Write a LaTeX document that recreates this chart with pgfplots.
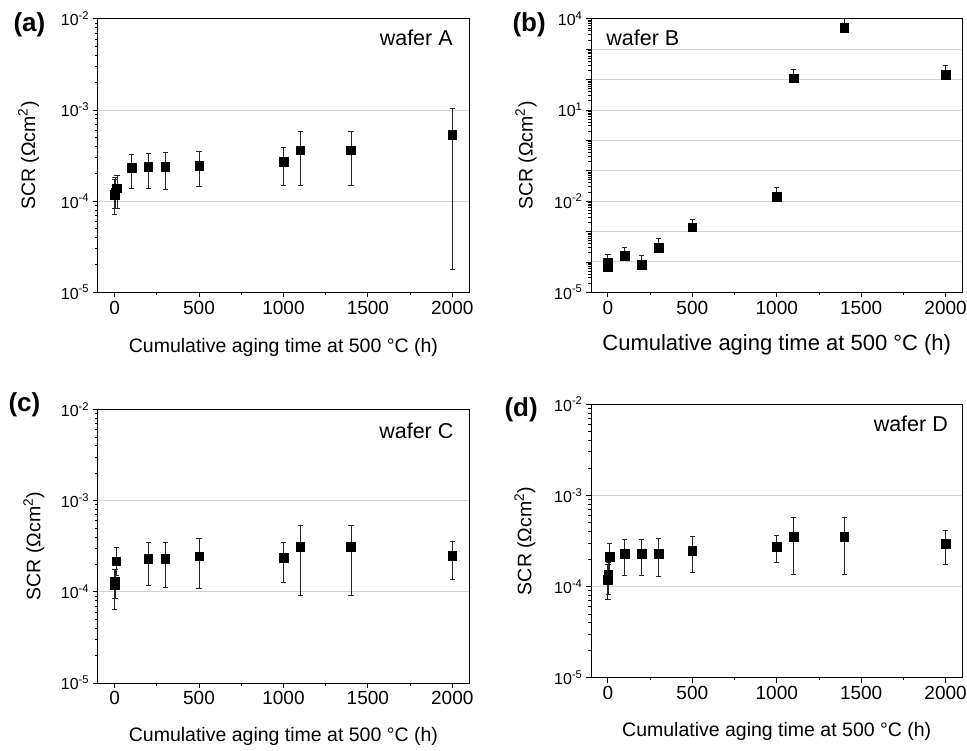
\documentclass[border=0pt]{standalone}
\usepackage{fontspec}
\setmainfont{Liberation Sans}
\usepackage{pgfplots}
\pgfplotsset{compat=1.18}
\pgfkeys{/pgf/number format/.cd, assume math mode=true, 1000 sep={}}

% tick labels set in text, at fixed sizes
\newcommand\xt[1]{\mbox{\fontsize{19}{21}\selectfont #1}}
\newcommand\ye[1]{\mbox{\fontsize{16}{18}\selectfont 10\textsuperscript{#1}}}

\pgfplotsset{
  every axis/.append style={
    scale only axis, width=371.5pt, height=273.5pt,
    xmin=-100, xmax=2100,
    xtick={0,500,1000,1500,2000}, minor x tick num=1,
    xticklabels={\xt{0},\xt{500},\xt{1000},\xt{1500},\xt{2000}},
    tick align=outside,
    major tick length=5pt, minor tick length=2.7pt,
    tick style={black, line width=0.8pt},
    axis line style={line width=0.9pt},
    ymajorgrids, major grid style={black!18, line width=0.9pt},
    label style={font=\fontsize{19.5}{22}\selectfont},
    xlabel={Cumulative aging time at 500 °C (h)},
    ylabel={SCR (Ωcm\textsuperscript{2})},
    clip=false,
  },
}

\begin{document}
\begin{tikzpicture}
\useasboundingbox (0,0) rectangle (967pt,-751pt);

% (a) wafer A
\begin{axis}[at={(97.7pt,-292.3pt)}, anchor=south west,
  xtick pos=left, ytick pos=left,
  ymode=log, ymin=1e-5, ymax=1e-2,
  ytick={1e-5,1e-4,1e-3,1e-2},
  yticklabels={\ye{-5},\ye{-4},\ye{-3},\ye{-2}},
  xlabel style={at={(axis description cs:0.5,-0.201)}, anchor=center},
  ylabel style={at={(axis description cs:-0.186,0.5)}, anchor=center}]
\addplot[only marks, mark=square*, mark size=4.3pt, black,
  error bars/.cd, y dir=both, y explicit,
  error bar style={line width=0.8pt, black!85},
  error mark options={rotate=90, mark size=2.7pt, line width=0.8pt, black!85}]
  table[x=x, y=y, y error plus expr=\thisrow{hi}-\thisrow{y}, y error minus expr=\thisrow{y}-\thisrow{lo}] {
x y hi lo
0 1.18e-4 1.71e-4 7.1e-5
3 1.25e-4 1.80e-4 8.3e-5
14 1.38e-4 1.90e-4 8.4e-5
100 2.34e-4 3.28e-4 1.39e-4
200 2.37e-4 3.36e-4 1.37e-4
300 2.39e-4 3.45e-4 1.35e-4
500 2.46e-4 3.48e-4 1.44e-4
1000 2.70e-4 3.92e-4 1.50e-4
1100 3.63e-4 5.83e-4 1.47e-4
1400 3.63e-4 5.83e-4 1.47e-4
2000 5.36e-4 1.04e-3 1.77e-5
};
\node[font=\fontsize{21.5}{24}\selectfont, anchor=east] at (axis description cs:0.965,0.93) {wafer A};
\end{axis}

% (b) wafer B
\begin{axis}[at={(591pt,-292.3pt)}, anchor=south west,
  xtick pos=left, ytick pos=left,
  ymode=log, ymin=1e-5, ymax=1e4,
  ytick={1e-5,1e-4,1e-3,1e-2,1e-1,1,1e1,1e2,1e3,1e4},
  yticklabels={\ye{-5},{},{},\ye{-2},{},{},\ye{1},{},{},\ye{4}},
  xlabel style={font=\fontsize{22}{24}\selectfont, at={(axis description cs:0.5,-0.193)}, anchor=center},
  ylabel style={at={(axis description cs:-0.175,0.5)}, anchor=center}]
\addplot[only marks, mark=square*, mark size=4.3pt, black,
  error bars/.cd, y dir=plus, y explicit,
  error bar style={line width=0.8pt, black!85},
  error mark options={rotate=90, mark size=2.7pt, line width=0.8pt, black!85}]
  table[x=x, y=y, y error plus expr=\thisrow{hi}-\thisrow{y}] {
x y hi
0 6.6e-5 1.29e-4
0 9.4e-5 1.78e-4
100 1.6e-4 3.1e-4
200 8.1e-5 1.58e-4
300 2.93e-4 5.8e-4
500 1.37e-3 2.6e-3
1000 1.40e-2 2.76e-2
1100 110 216
1400 5000 10000
2000 145 285
};
\node[font=\fontsize{21.5}{24}\selectfont, anchor=west] at (axis description cs:0.032,0.93) {wafer B};
\end{axis}

% (c) wafer C
\begin{axis}[at={(97.7pt,-683pt)}, anchor=south west,
  xtick pos=left, ytick pos=left,
  ymode=log, ymin=1e-5, ymax=1e-2,
  ytick={1e-5,1e-4,1e-3,1e-2},
  yticklabels={\ye{-5},\ye{-4},\ye{-3},\ye{-2}},
  xlabel style={at={(axis description cs:0.5,-0.196)}, anchor=center},
  ylabel style={at={(axis description cs:-0.172,0.5)}, anchor=center}]
\addplot[only marks, mark=square*, mark size=4.3pt, black,
  error bars/.cd, y dir=both, y explicit,
  error bar style={line width=0.8pt, black!85},
  error mark options={rotate=90, mark size=2.7pt, line width=0.8pt, black!85}]
  table[x=x, y=y, y error plus expr=\thisrow{hi}-\thisrow{y}, y error minus expr=\thisrow{y}-\thisrow{lo}] {
x y hi lo
0 1.18e-4 1.76e-4 6.45e-5
2 1.29e-4 1.76e-4 8.46e-5
10 2.17e-4 3.07e-4 1.5e-4
200 2.31e-4 3.45e-4 1.19e-4
300 2.31e-4 3.48e-4 1.13e-4
500 2.47e-4 3.82e-4 1.09e-4
1000 2.37e-4 3.51e-4 1.27e-4
1100 3.12e-4 5.30e-4 9.1e-5
1400 3.12e-4 5.30e-4 9.1e-5
2000 2.49e-4 3.57e-4 1.38e-4
};
\node[font=\fontsize{21.5}{24}\selectfont, anchor=east] at (axis description cs:0.967,0.923) {wafer C};
\end{axis}

% (d) wafer D
\begin{axis}[at={(591pt,-677.7pt)}, anchor=south west,
  xtick pos=left, ytick pos=left,
  ymode=log, ymin=1e-5, ymax=1e-2,
  ytick={1e-5,1e-4,1e-3,1e-2},
  yticklabels={\ye{-5},\ye{-4},\ye{-3},\ye{-2}},
  xlabel style={at={(axis description cs:0.5,-0.197)}, anchor=center},
  ylabel style={at={(axis description cs:-0.178,0.5)}, anchor=center}]
\addplot[only marks, mark=square*, mark size=4.3pt, black,
  error bars/.cd, y dir=both, y explicit,
  error bar style={line width=0.8pt, black!85},
  error mark options={rotate=90, mark size=2.7pt, line width=0.8pt, black!85}]
  table[x=x, y=y, y error plus expr=\thisrow{hi}-\thisrow{y}, y error minus expr=\thisrow{y}-\thisrow{lo}] {
x y hi lo
0 1.18e-4 1.73e-4 7.3e-5
2 1.34e-4 1.83e-4 8.3e-5
10 2.12e-4 2.96e-4 1.5e-4
100 2.29e-4 3.26e-4 1.31e-4
200 2.30e-4 3.26e-4 1.32e-4
300 2.30e-4 3.34e-4 1.29e-4
500 2.47e-4 3.54e-4 1.43e-4
1000 2.73e-4 3.63e-4 1.82e-4
1100 3.54e-4 5.77e-4 1.35e-4
1400 3.54e-4 5.77e-4 1.35e-4
2000 2.96e-4 4.18e-4 1.75e-4
};
\node[font=\fontsize{21.5}{24}\selectfont, anchor=east] at (axis description cs:0.970,0.927) {wafer D};
\end{axis}

\node[font=\bfseries\fontsize{26}{28}\selectfont, anchor=west] at (10pt,-25pt) {(a)};
\node[font=\bfseries\fontsize{26}{28}\selectfont, anchor=west] at (509pt,-25pt) {(b)};
\node[font=\bfseries\fontsize{26}{28}\selectfont, anchor=west] at (5pt,-405pt) {(c)};
\node[font=\bfseries\fontsize{26}{28}\selectfont, anchor=west] at (501pt,-410pt) {(d)};
\end{tikzpicture}
\end{document}
